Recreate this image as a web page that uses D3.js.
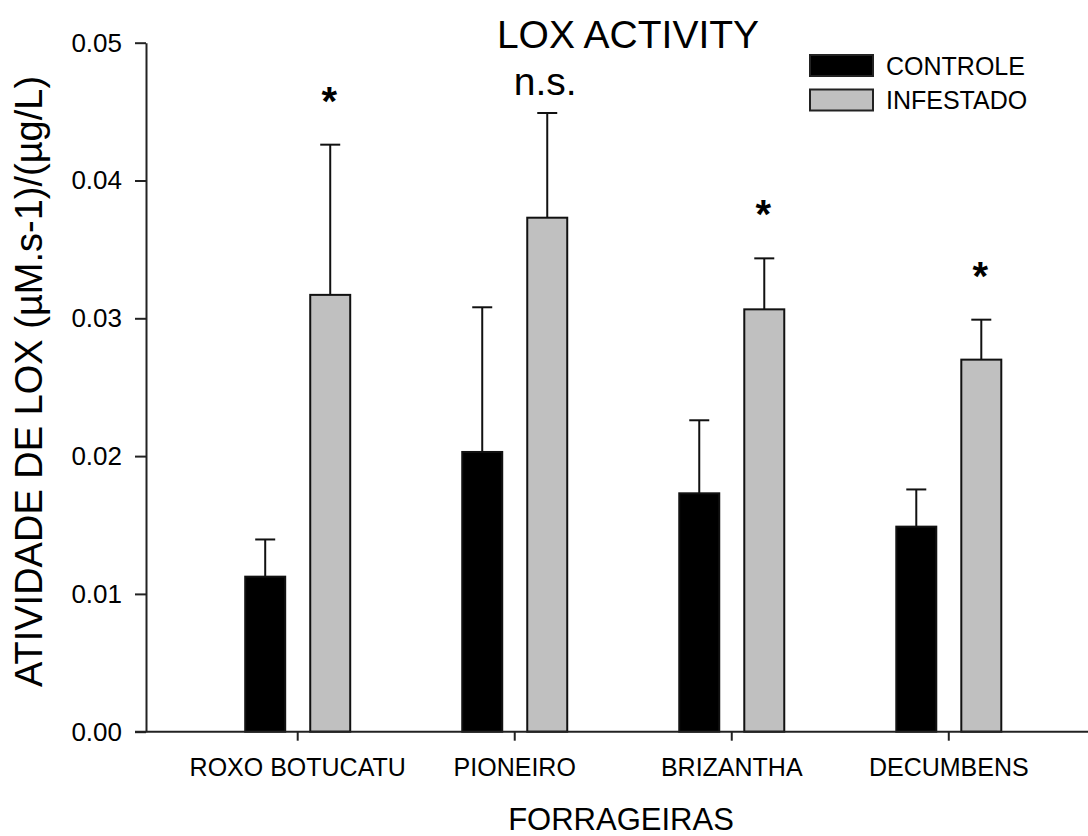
<!DOCTYPE html>
<html>
<head>
<meta charset="utf-8">
<script src="https://cdn.jsdelivr.net/npm/d3@7"></script>
<style>
  html, body { margin: 0; padding: 0; background: #ffffff; }
  svg { display: block; }
  text { font-family: "Liberation Sans", Arial, sans-serif; fill: #000; }
</style>
</head>
<body>
<svg id="chart" width="1088" height="836"></svg>
<script>
// LOX activity per forage cultivar, control vs infested (mean + upper error bar)
const categories = ["ROXO BOTUCATU", "PIONEIRO", "BRIZANTHA", "DECUMBENS"];
const seriesNames = ["CONTROLE", "INFESTADO"];
const controleMean = [0.01125, 0.0203, 0.0173, 0.01488];
const controleErr  = [0.0027, 0.0105, 0.0053, 0.0027];
const infestadoMean = [0.0317, 0.0373, 0.03065, 0.0270];
const infestadoErr  = [0.0109, 0.0076, 0.0037, 0.0029];
const significance = ["*", "n.s.", "*", "*"];
const yTicks = [0, 0.01, 0.02, 0.03, 0.04, 0.05];

const fills = { "CONTROLE": "#000000", "INFESTADO": "#c0c0c0" };

const rows = [];
categories.forEach((c, i) => {
  rows.push({ cat: c, series: "CONTROLE", mean: controleMean[i], err: controleErr[i] });
  rows.push({ cat: c, series: "INFESTADO", mean: infestadoMean[i], err: infestadoErr[i] });
});

const svg = d3.select("#chart");

const axisX = 146, axisY = 731.7, topY = 42.7;

const y = d3.scaleLinear().domain([0, 0.05]).range([axisY, topY]);
const x0 = d3.scaleBand().domain(categories).range([189.2, 1057.3]).padding(0);
const groupW = 105;
const x1 = d3.scaleBand().domain(seriesNames).range([0, groupW]).paddingInner(0.385).paddingOuter(0);
const groupLeft = c => x0(c) + x0.bandwidth() / 2 - groupW / 2;

// Bars
svg.append("g").selectAll("rect")
  .data(rows)
  .join("rect")
  .attr("x", d => groupLeft(d.cat) + x1(d.series))
  .attr("y", d => y(d.mean))
  .attr("width", x1.bandwidth())
  .attr("height", d => y(0) - y(d.mean))
  .attr("fill", d => fills[d.series])
  .attr("stroke", "#111")
  .attr("stroke-width", 2);

// Upper error bars
const capW = 20;
const eb = svg.append("g").attr("stroke", "#111").attr("stroke-width", 2);
rows.forEach(d => {
  const cx = groupLeft(d.cat) + x1(d.series) + x1.bandwidth() / 2;
  eb.append("line").attr("x1", cx).attr("x2", cx)
    .attr("y1", y(d.mean)).attr("y2", y(d.mean + d.err));
  eb.append("line").attr("x1", cx - capW / 2).attr("x2", cx + capW / 2)
    .attr("y1", y(d.mean + d.err)).attr("y2", y(d.mean + d.err));
});

// Significance marks above the infested bars
categories.forEach((c, i) => {
  const cx = groupLeft(c) + x1("INFESTADO") + x1.bandwidth() / 2;
  const top = y(infestadoMean[i] + infestadoErr[i]);
  const s = significance[i];
  if (s === "*") {
    svg.append("text").attr("x", cx - 1).attr("y", top - 30)
      .attr("text-anchor", "middle").attr("font-size", 40).attr("font-weight", "bold")
      .text(s);
  } else {
    svg.append("text").attr("x", cx - 2).attr("y", top - 18)
      .attr("text-anchor", "middle").attr("font-size", 39)
      .text(s);
  }
});

// Y axis
const yAxis = d3.axisLeft(y).tickValues(yTicks).tickFormat(d3.format(".2f"))
  .tickSizeInner(11).tickSizeOuter(0).tickPadding(13);
const gy = svg.append("g").attr("transform", `translate(${axisX},0)`).call(yAxis);
gy.select(".domain").attr("stroke", "#222").attr("stroke-width", 2);
gy.selectAll(".tick line").attr("stroke", "#222").attr("stroke-width", 2);
gy.selectAll(".tick text").attr("font-size", 26).attr("fill", "#000")
  .attr("font-family", "Liberation Sans, Arial, sans-serif");

// X axis
const xAxis = d3.axisBottom(x0).tickSizeInner(9).tickSizeOuter(0).tickPadding(18);
const gx = svg.append("g").attr("transform", `translate(0,${axisY})`).call(xAxis);
gx.select(".domain").attr("d", `M${axisX - 11},0H1088`).attr("stroke", "#222").attr("stroke-width", 2);
gx.selectAll(".tick line").attr("stroke", "#222").attr("stroke-width", 2);
gx.selectAll(".tick text").attr("font-size", 25).attr("fill", "#000")
  .attr("font-family", "Liberation Sans, Arial, sans-serif");

// Titles
svg.append("text").attr("x", 628).attr("y", 48).attr("text-anchor", "middle")
  .attr("font-size", 39).text("LOX ACTIVITY");
svg.append("text").attr("x", 621).attr("y", 830).attr("text-anchor", "middle")
  .attr("font-size", 31).text("FORRAGEIRAS");
svg.append("text").attr("transform", "translate(42,381.5) rotate(-90)")
  .attr("text-anchor", "middle").attr("font-size", 38)
  .text("ATIVIDADE DE LOX (µM.s-1)/(µg/L)");

// Legend
const legend = svg.append("g");
seriesNames.forEach((s, i) => {
  const ly = 55 + i * 34.5;
  legend.append("rect").attr("x", 810).attr("y", ly).attr("width", 63).attr("height", 21)
    .attr("fill", fills[s]).attr("stroke", "#222").attr("stroke-width", 2);
  legend.append("text").attr("x", 886).attr("y", ly + 19.5).attr("font-size", 25).text(s);
});
</script>
</body>
</html>
